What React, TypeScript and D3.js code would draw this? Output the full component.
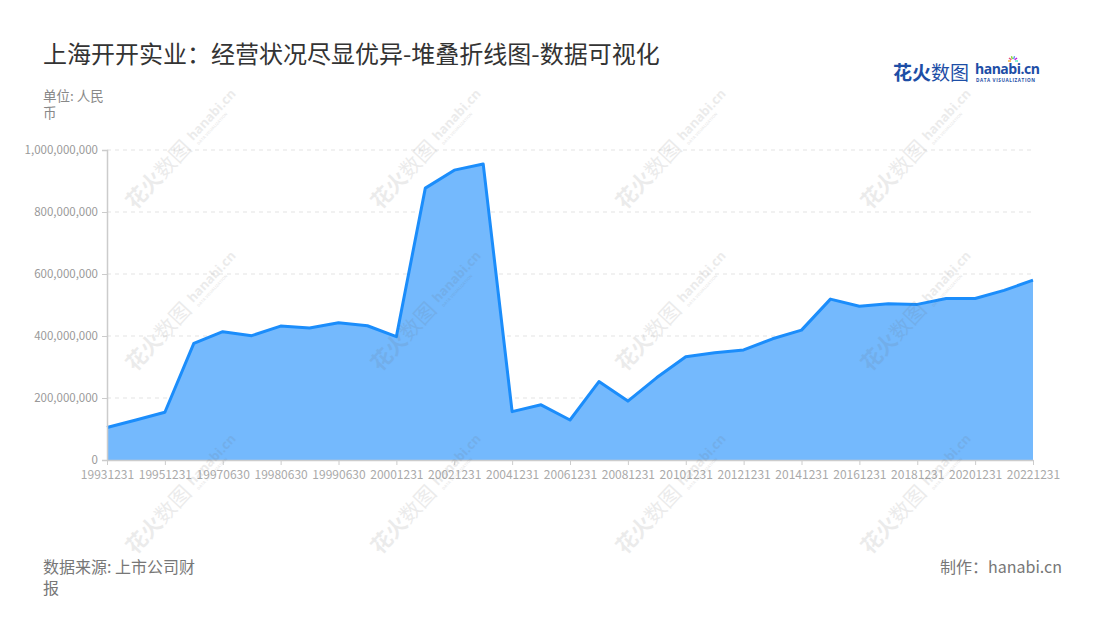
import React, { useEffect, useRef } from 'react';
import * as d3 from 'd3';

const reportDates = [
  '19931231', '19941231', '19951231', '19961231', '19970630', '19971231',
  '19980630', '19981231', '19990630', '19991231', '20001231', '20011231',
  '20021231', '20031231', '20041231', '20051231', '20061231', '20071231',
  '20081231', '20091231', '20101231', '20111231', '20121231', '20131231',
  '20141231', '20151231', '20161231', '20171231', '20181231', '20191231',
  '20201231', '20211231', '20221231',
];

const operatingRevenue = [
  105e6, 129e6, 154e6, 376e6, 414e6, 401e6,
  432e6, 426e6, 443e6, 433e6, 398e6, 877e6,
  935e6, 955e6, 156e6, 178e6, 129e6, 253e6,
  190e6, 266e6, 333e6, 346e6, 355e6, 391e6,
  419e6, 519e6, 496e6, 504e6, 502e6, 521e6,
  521e6, 547e6, 580e6,
];

const yTicks = [0, 200e6, 400e6, 600e6, 800e6, 1000e6];

const watermarkX = [182, 427, 672, 917];
const watermarkY = [150, 312, 495];

const FONT = '"Noto Sans CJK SC", "Noto Sans", sans-serif';

const App: React.FC = () => {
  const svgRef = useRef<SVGSVGElement>(null);
  const width = 1100;
  const height = 620;

  useEffect(() => {
    if (!svgRef.current) return;
    const svg = d3.select(svgRef.current);
    svg.selectAll('*').remove();

    const margin = { top: 150, right: 67, bottom: 160, left: 107 };
    const innerWidth = width - margin.left - margin.right;
    const innerHeight = height - margin.top - margin.bottom;

    svg.append('rect').attr('width', width).attr('height', height).attr('fill', '#fff');

    // Title
    svg.append('text')
      .attr('x', 43)
      .attr('y', 63)
      .style('font-family', FONT)
      .style('font-size', '24px')
      .style('fill', '#333')
      .text('上海开开实业：经营状况尽显优异-堆叠折线图-数据可视化');

    // Unit (wrapped in two lines)
    ['单位: 人民', '币'].forEach((t, i) => {
      svg.append('text')
        .attr('x', 43)
        .attr('y', 101 + i * 17)
        .style('font-family', FONT)
        .style('font-size', '13.5px')
        .style('fill', '#888')
        .text(t);
    });

    // Logo
    svg.append('text')
      .attr('x', 893)
      .attr('y', 80)
      .style('font-family', FONT)
      .style('font-size', '19px')
      .style('fill', '#1d4ea6')
      .call(t => {
        t.append('tspan').style('font-weight', 'bold').text('花火');
        t.append('tspan').style('font-weight', 'normal').text('数图');
      });
    svg.append('text')
      .attr('x', 975)
      .attr('y', 74)
      .style('font-family', '"Open Sans", sans-serif')
      .style('font-size', '14px')
      .style('font-weight', 'bold')
      .style('letter-spacing', '-0.5px')
      .style('fill', '#1d4ea6')
      .text('hanabi.cn');
    svg.append('text')
      .attr('x', 976)
      .attr('y', 82)
      .style('font-family', '"Open Sans", sans-serif')
      .style('font-size', '4.6px')
      .style('font-weight', 'bold')
      .style('letter-spacing', '0.6px')
      .style('fill', '#1d4ea6')
      .text('DATA VISUALIZATION');
    const sparkColors = ['#f5a623', '#e94e77', '#7ed321', '#4a90e2', '#bd10e0', '#50e3c2'];
    sparkColors.forEach((c, i) => {
      const a = -Math.PI + (i / (sparkColors.length - 1)) * Math.PI;
      svg.append('line')
        .attr('x1', 1013 + Math.cos(a) * 2)
        .attr('y1', 61 + Math.sin(a) * 2)
        .attr('x2', 1013 + Math.cos(a) * 5)
        .attr('y2', 61 + Math.sin(a) * 5)
        .attr('stroke', c)
        .attr('stroke-width', 1.3);
    });

    const g = svg.append('g').attr('transform', `translate(${margin.left},${margin.top})`);

    const xScale = d3.scalePoint<string>()
      .domain(reportDates)
      .range([0, innerWidth]);

    const yScale = d3.scaleLinear()
      .domain([0, 1e9])
      .range([innerHeight, 0]);

    // Grid
    g.selectAll('.grid')
      .data(yTicks.filter(t => t > 0))
      .enter().append('line')
      .attr('x1', 0)
      .attr('x2', innerWidth)
      .attr('y1', d => yScale(d))
      .attr('y2', d => yScale(d))
      .attr('stroke', '#e3e3e3')
      .attr('stroke-dasharray', '4,4');

    // Area + line
    const area = d3.area<number>()
      .x((_, i) => xScale(reportDates[i]) || 0)
      .y0(yScale(0))
      .y1(d => yScale(d));
    const line = d3.line<number>()
      .x((_, i) => xScale(reportDates[i]) || 0)
      .y(d => yScale(d));

    g.append('path')
      .datum(operatingRevenue)
      .attr('d', area)
      .attr('fill', '#74b9fd');

    g.append('path')
      .datum(operatingRevenue)
      .attr('d', line)
      .attr('fill', 'none')
      .attr('stroke', '#1b8dfb')
      .attr('stroke-width', 3)
      .attr('stroke-linejoin', 'round');

    // Y axis
    const yAxis = g.append('g')
      .call(d3.axisLeft(yScale).tickValues(yTicks).tickSize(5).tickPadding(4)
        .tickFormat(d => d3.format(',')(d as number)));
    yAxis.select('.domain').attr('stroke', '#ccc').attr('stroke-width', 1.5);
    yAxis.selectAll('.tick line').attr('stroke', '#ccc');
    yAxis.selectAll('text')
      .style('font-family', FONT)
      .style('font-size', '11.5px')
      .style('fill', '#999');

    // X axis
    const xAxis = g.append('g')
      .attr('transform', `translate(0,${innerHeight})`)
      .call(d3.axisBottom(xScale)
        .tickValues(reportDates.filter((_, i) => i % 2 === 0))
        .tickSize(5)
        .tickPadding(5)
        .tickSizeOuter(0));
    xAxis.select('.domain').attr('stroke', '#ccc').attr('stroke-width', 1.5);
    xAxis.selectAll('.tick line').attr('stroke', '#ccc');
    xAxis.selectAll('text')
      .style('font-family', FONT)
      .style('font-size', '12px')
      .style('fill', '#aaa');

    // Watermarks
    watermarkY.forEach(wy => {
      watermarkX.forEach(wx => {
        const wm = svg.append('g')
          .attr('transform', `translate(${wx},${wy}) rotate(-47)`)
          .attr('opacity', 0.12)
          .style('pointer-events', 'none');
        wm.append('text')
          .attr('x', -76)
          .attr('y', 7)
          .style('font-family', FONT)
          .style('font-size', '21px')
          .style('fill', '#666')
          .call(t => {
            t.append('tspan').style('font-weight', 'bold').text('花火');
            t.append('tspan').style('font-weight', 'normal').text('数图');
          });
        wm.append('text')
          .attr('x', 14)
          .attr('y', 2)
          .style('font-family', '"Open Sans", sans-serif')
          .style('font-size', '13px')
          .style('font-weight', 'bold')
          .style('fill', '#666')
          .text('hanabi.cn');
        wm.append('text')
          .attr('x', 15)
          .attr('y', 9)
          .style('font-family', '"Open Sans", sans-serif')
          .style('font-size', '4px')
          .style('font-weight', 'bold')
          .style('fill', '#666')
          .text('DATA VISUALIZATION');
      });
    });

    // Footer
    ['数据来源: 上市公司财', '报'].forEach((t, i) => {
      svg.append('text')
        .attr('x', 43)
        .attr('y', 573 + i * 21)
        .style('font-family', FONT)
        .style('font-size', '16px')
        .style('fill', '#777')
        .text(t);
    });

    svg.append('text')
      .attr('x', 1062)
      .attr('y', 573)
      .attr('text-anchor', 'end')
      .style('font-family', FONT)
      .style('font-size', '16px')
      .style('fill', '#777')
      .text('制作：hanabi.cn');
  }, []);

  return (
    <div style={{ position: 'absolute', left: 0, top: 0, width, height, background: '#fff' }}>
      <svg ref={svgRef} width={width} height={height}></svg>
    </div>
  );
};

export default App;
